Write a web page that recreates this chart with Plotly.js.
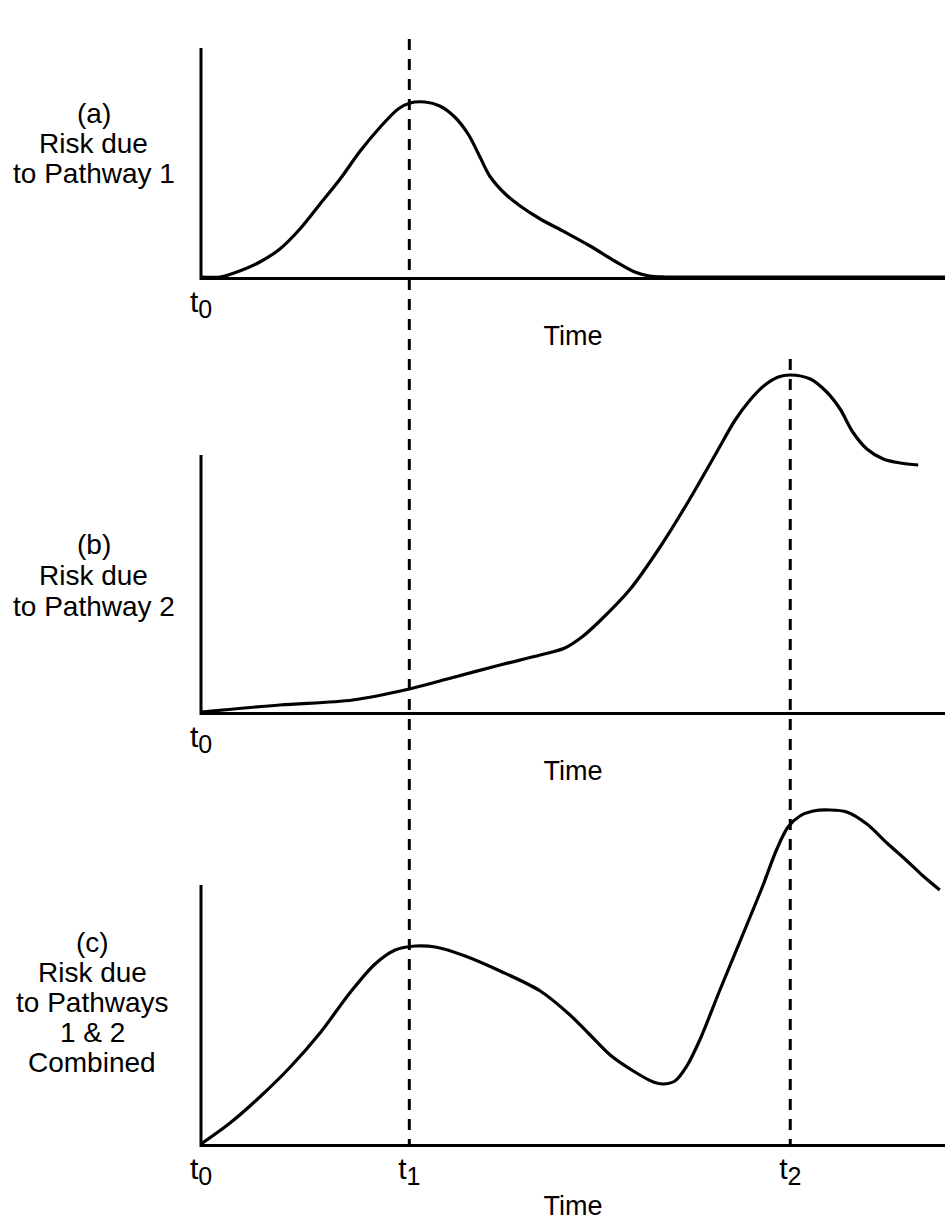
<!DOCTYPE html>
<html><head><meta charset="utf-8">
<script src="https://cdn.plot.ly/plotly-3.0.1.min.js"></script>
<style>html,body{margin:0;padding:0;background:#fff}#chart{width:945px;height:1221px}</style>
</head><body><div id="chart"></div>
<script>
// ---- data (time in arbitrary units, t0 = 0 ... 100; risk in arbitrary units) ----
var t1 = 28.0, t2 = 79.2;
var tickValsAB = [0];
var tickTextAB = ['t<sub><span style="font-size:25px">0</span></sub>'];
var tickValsC = [0, t1, t2];
var tickTextC = ['t<sub><span style="font-size:25px">0</span></sub>', 't<sub><span style="font-size:25px">1</span></sub>', 't<sub><span style="font-size:25px">2</span></sub>'];
var xTitle = 'Time';
var labelsA = ['(a)', 'Risk due', 'to Pathway 1'];
var labelsB = ['(b)', 'Risk due', 'to Pathway 2'];
var labelsC = ['(c)', 'Risk due', 'to Pathways', '1 & 2', 'Combined'];

var timeA = [0, 2.6, 5.2, 7.9, 10.6, 13.3, 16.0, 18.7, 21.4, 24.1, 26.5, 28.1, 30.1, 32.1, 34.1, 35.9, 37.5, 38.8, 40.9, 42.9, 45.6, 48.9, 52.3, 55.6, 58.3, 60.3, 62.4, 75, 100];
var riskA = [0, 0, 0.06, 0.15, 0.28, 0.48, 0.73, 0.98, 1.26, 1.50, 1.68, 1.74, 1.75, 1.71, 1.60, 1.43, 1.20, 1.01, 0.83, 0.71, 0.58, 0.45, 0.31, 0.16, 0.05, 0.01, 0, 0, 0];

var timeB = [0, 10.6, 20.4, 28.0, 33.1, 40.2, 45.6, 48.9, 51.2, 53.6, 57.7, 61.7, 65.7, 69.1, 71.8, 73.8, 75.8, 77.6, 79.2, 81.9, 84.1, 85.9, 87.6, 89.5, 91.7, 94.0, 96.4];
var riskB = [0, 0.07, 0.12, 0.23, 0.33, 0.47, 0.57, 0.64, 0.75, 0.91, 1.23, 1.65, 2.13, 2.57, 2.92, 3.12, 3.27, 3.35, 3.37, 3.33, 3.20, 3.03, 2.80, 2.63, 2.53, 2.49, 2.47];

var timeC = [0, 3.9, 7.9, 12.0, 16.0, 20.0, 23.4, 26.1, 28.8, 31.5, 35.5, 40.2, 45.6, 49.6, 52.3, 55.0, 58.1, 60.8, 62.1, 63.7, 65.3, 67.1, 69.8, 73.8, 75.5, 77.4, 78.9, 80.5, 82.3, 84.5, 86.8, 89.5, 92.2, 94.9, 96.9, 99.3];
var riskC = [0, 0.21, 0.47, 0.77, 1.11, 1.51, 1.80, 1.94, 1.98, 1.97, 1.88, 1.73, 1.53, 1.29, 1.09, 0.89, 0.73, 0.62, 0.60, 0.63, 0.78, 1.05, 1.55, 2.27, 2.58, 2.95, 3.17, 3.28, 3.33, 3.34, 3.32, 3.20, 3.01, 2.83, 2.69, 2.54];

// ---- layout geometry (px) ----
var W = 945, H = 1221, L = 201;
var basePx = [277, 712, 1144];
var topPx = [30, 360, 795];
var yAxisTopPx = [48, 455, 885];
var titleStandoff = [4, 4, 9];
var labelCx = [94, 94, 92];
var labelCy = [[113, 144, 174], [544, 575, 606], [942, 972, 1002, 1032, 1062]];
var FONT = 'Liberation Sans, Arial, Helvetica, sans-serif';
function py(p) { return 1 - p / H; }
function px(p) { return (p - L) / (W - L); }

var lineStyle = {color: '#000', width: 3.2, shape: 'spline', smoothing: 0.9};
var traces = [
  {x: timeA, y: riskA, xaxis: 'x', yaxis: 'y', type: 'scatter', mode: 'lines', line: lineStyle, hoverinfo: 'skip'},
  {x: timeB, y: riskB, xaxis: 'x2', yaxis: 'y2', type: 'scatter', mode: 'lines', line: lineStyle, hoverinfo: 'skip'},
  {x: timeC, y: riskC, xaxis: 'x3', yaxis: 'y3', type: 'scatter', mode: 'lines', line: lineStyle, hoverinfo: 'skip'}
];

function xAxis(anchor, vals, texts, standoff) {
  return {
    domain: [0, 1], range: [0, 100], anchor: anchor,
    showline: true, linewidth: 3, linecolor: '#000',
    showgrid: false, zeroline: false, ticks: '',
    tickvals: vals, ticktext: texts,
    tickfont: {family: FONT, size: 30, color: '#000'},
    ticklabelstandoff: -4,
    title: {text: xTitle, font: {family: FONT, size: 27, color: '#000'}, standoff: standoff},
    fixedrange: true
  };
}
function yAxis(i, anchor) {
  return {
    domain: [py(basePx[i]), py(topPx[i])],
    range: [0, (basePx[i] - topPx[i]) / 100],
    anchor: anchor, visible: false, fixedrange: true
  };
}

var shapes = [];
for (var i = 0; i < 3; i++) {
  shapes.push({type: 'line', xref: 'paper', yref: 'paper', x0: 0, x1: 0,
    y0: py(basePx[i] + 3), y1: py(yAxisTopPx[i]), line: {color: '#000', width: 3}});
}
shapes.push({type: 'line', xref: 'x', yref: 'paper', x0: t1, x1: t1, y0: py(39), y1: py(basePx[2]),
  line: {color: '#000', width: 3, dash: '11px,9px'}});
shapes.push({type: 'line', xref: 'x', yref: 'paper', x0: t2, x1: t2, y0: py(359), y1: py(basePx[2]),
  line: {color: '#000', width: 3, dash: '11px,9px'}});

var annotations = [];
[labelsA, labelsB, labelsC].forEach(function (lines, i) {
  lines.forEach(function (txt, j) {
    annotations.push({xref: 'paper', yref: 'paper', x: px(labelCx[i]), y: py(labelCy[i][j]),
      xanchor: 'center', yanchor: 'middle', showarrow: false, text: txt,
      font: {family: FONT, size: 28, color: '#000'}});
  });
});

var layout = {
  width: W, height: H,
  margin: {l: L, r: 0, t: 0, b: 0},
  paper_bgcolor: '#fff', plot_bgcolor: 'rgba(0,0,0,0)',
  showlegend: false,
  font: {family: FONT, color: '#000'},
  xaxis: xAxis('y', tickValsAB, tickTextAB, titleStandoff[0]),
  xaxis2: xAxis('y2', tickValsAB, tickTextAB, titleStandoff[1]),
  xaxis3: xAxis('y3', tickValsC, tickTextC, titleStandoff[2]),
  yaxis: yAxis(0, 'x'),
  yaxis2: yAxis(1, 'x2'),
  yaxis3: yAxis(2, 'x3'),
  shapes: shapes,
  annotations: annotations
};

Plotly.newPlot('chart', traces, layout, {staticPlot: true, displayModeBar: false});
</script>
</body></html>
